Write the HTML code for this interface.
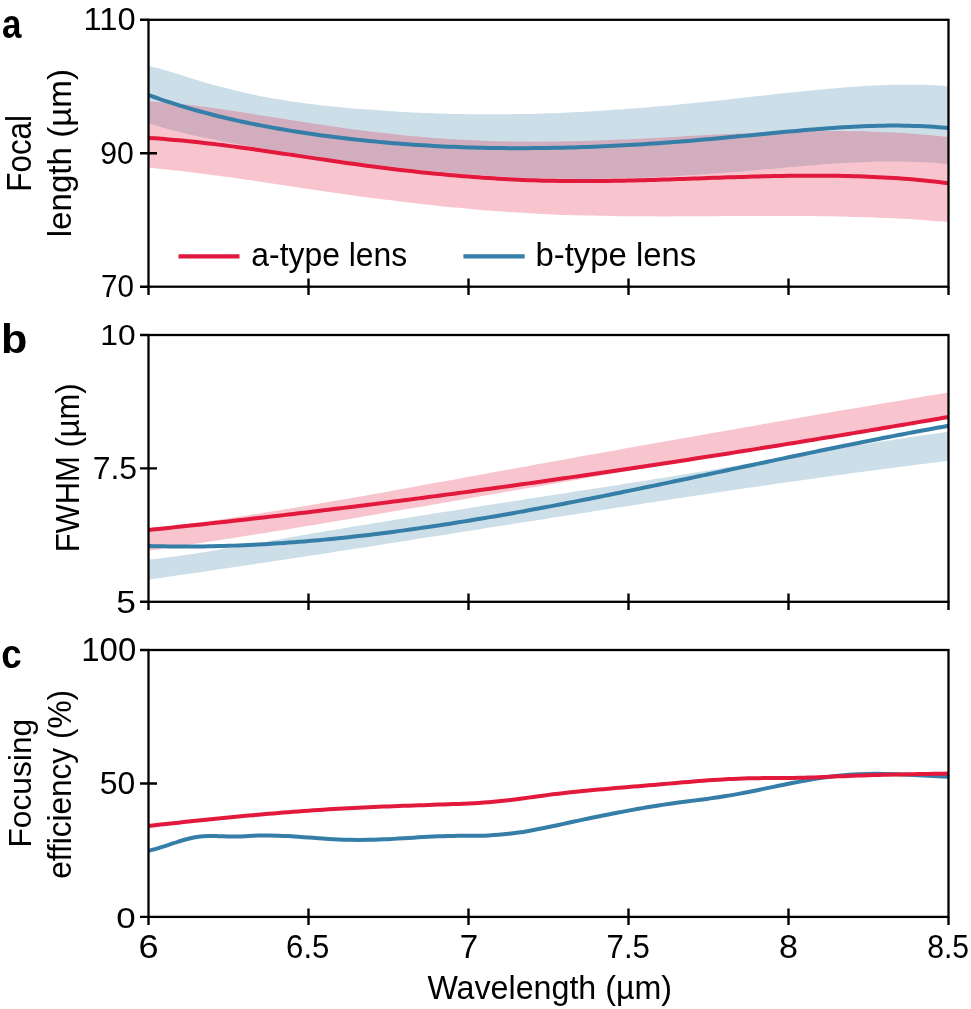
<!DOCTYPE html>
<html><head><meta charset="utf-8"><style>
html,body{margin:0;padding:0;background:#fff;width:971px;height:1009px;overflow:hidden}
svg{position:absolute;left:0;top:0;will-change:transform}
text{font-family:"Liberation Sans",sans-serif;fill:#000}
</style></head><body>
<svg width="971" height="1009" viewBox="0 0 971 1009">
<defs><clipPath id="ca"><rect x="148.50" y="19.80" width="800.00" height="266.90"/></clipPath><clipPath id="cb"><rect x="148.50" y="335.00" width="800.00" height="266.80"/></clipPath><clipPath id="cc"><rect x="148.50" y="650.00" width="800.00" height="266.90"/></clipPath></defs>
<g clip-path="url(#ca)">
<path d="M148.50,65.70 C150.17,66.14 155.17,67.44 158.50,68.37 C161.83,69.30 165.17,70.28 168.50,71.27 C171.83,72.26 175.17,73.29 178.50,74.31 C181.83,75.33 185.17,76.38 188.50,77.40 C191.83,78.42 195.17,79.45 198.50,80.45 C201.83,81.44 205.17,82.43 208.50,83.38 C211.83,84.33 215.17,85.26 218.50,86.17 C221.83,87.07 225.17,87.95 228.50,88.80 C231.83,89.65 235.17,90.48 238.50,91.27 C241.83,92.06 245.17,92.82 248.50,93.55 C251.83,94.28 255.17,94.98 258.50,95.65 C261.83,96.32 265.17,96.95 268.50,97.56 C271.83,98.17 275.17,98.75 278.50,99.31 C281.83,99.87 285.17,100.39 288.50,100.90 C291.83,101.41 295.17,101.89 298.50,102.35 C301.83,102.81 305.17,103.25 308.50,103.67 C311.83,104.09 315.17,104.49 318.50,104.88 C321.83,105.26 325.17,105.63 328.50,105.98 C331.83,106.33 335.17,106.67 338.50,106.99 C341.83,107.32 345.17,107.63 348.50,107.93 C351.83,108.23 355.17,108.52 358.50,108.80 C361.83,109.08 365.17,109.35 368.50,109.61 C371.83,109.86 375.17,110.11 378.50,110.35 C381.83,110.59 385.17,110.81 388.50,111.03 C391.83,111.24 395.17,111.45 398.50,111.64 C401.83,111.84 405.17,112.02 408.50,112.19 C411.83,112.36 415.17,112.53 418.50,112.68 C421.83,112.83 425.17,112.97 428.50,113.10 C431.83,113.23 435.17,113.36 438.50,113.47 C441.83,113.58 445.17,113.67 448.50,113.76 C451.83,113.85 455.17,113.93 458.50,114.00 C461.83,114.07 465.17,114.13 468.50,114.17 C471.83,114.22 475.17,114.26 478.50,114.28 C481.83,114.31 485.17,114.33 488.50,114.33 C491.83,114.34 495.17,114.34 498.50,114.32 C501.83,114.31 505.17,114.28 508.50,114.25 C511.83,114.21 515.17,114.17 518.50,114.11 C521.83,114.06 525.17,113.99 528.50,113.91 C531.83,113.84 535.17,113.75 538.50,113.66 C541.83,113.56 545.17,113.45 548.50,113.34 C551.83,113.22 555.17,113.09 558.50,112.96 C561.83,112.82 565.17,112.67 568.50,112.52 C571.83,112.36 575.17,112.20 578.50,112.03 C581.83,111.85 585.17,111.67 588.50,111.48 C591.83,111.29 595.17,111.09 598.50,110.88 C601.83,110.67 605.17,110.45 608.50,110.23 C611.83,110.00 615.17,109.77 618.50,109.53 C621.83,109.29 625.17,109.05 628.50,108.79 C631.83,108.54 635.17,108.28 638.50,108.01 C641.83,107.74 645.17,107.47 648.50,107.18 C651.83,106.90 655.17,106.62 658.50,106.32 C661.83,106.03 665.17,105.73 668.50,105.43 C671.83,105.12 675.17,104.81 678.50,104.49 C681.83,104.18 685.17,103.86 688.50,103.53 C691.83,103.21 695.17,102.88 698.50,102.54 C701.83,102.21 705.17,101.87 708.50,101.52 C711.83,101.18 715.17,100.83 718.50,100.48 C721.83,100.13 725.17,99.77 728.50,99.41 C731.83,99.06 735.17,98.69 738.50,98.33 C741.83,97.97 745.17,97.60 748.50,97.23 C751.83,96.86 755.17,96.48 758.50,96.11 C761.83,95.74 765.17,95.36 768.50,94.99 C771.83,94.62 775.17,94.24 778.50,93.87 C781.83,93.51 785.17,93.14 788.50,92.78 C791.83,92.41 795.17,92.06 798.50,91.70 C801.83,91.35 805.17,91.01 808.50,90.67 C811.83,90.33 815.17,90.00 818.50,89.68 C821.83,89.37 825.17,89.05 828.50,88.76 C831.83,88.46 835.17,88.17 838.50,87.90 C841.83,87.62 845.17,87.36 848.50,87.12 C851.83,86.87 855.17,86.64 858.50,86.43 C861.83,86.21 865.17,86.02 868.50,85.84 C871.83,85.66 875.17,85.50 878.50,85.36 C881.83,85.22 885.17,85.10 888.50,85.00 C891.83,84.91 895.17,84.83 898.50,84.78 C901.83,84.73 905.17,84.70 908.50,84.70 C911.83,84.69 915.17,84.72 918.50,84.77 C921.83,84.82 925.17,84.89 928.50,85.00 C931.83,85.11 935.17,85.24 938.50,85.41 C941.83,85.57 946.83,85.90 948.50,86.00 L948.50,164.20 C946.83,164.04 941.83,163.54 938.50,163.26 C935.17,162.99 931.83,162.75 928.50,162.54 C925.17,162.33 921.83,162.16 918.50,162.01 C915.17,161.86 911.83,161.75 908.50,161.67 C905.17,161.58 901.83,161.52 898.50,161.49 C895.17,161.46 891.83,161.46 888.50,161.48 C885.17,161.50 881.83,161.55 878.50,161.61 C875.17,161.68 871.83,161.77 868.50,161.88 C865.17,161.99 861.83,162.12 858.50,162.27 C855.17,162.42 851.83,162.58 848.50,162.77 C845.17,162.95 841.83,163.15 838.50,163.36 C835.17,163.57 831.83,163.79 828.50,164.03 C825.17,164.27 821.83,164.52 818.50,164.77 C815.17,165.03 811.83,165.30 808.50,165.57 C805.17,165.85 801.83,166.13 798.50,166.42 C795.17,166.71 791.83,167.00 788.50,167.30 C785.17,167.59 781.83,167.89 778.50,168.19 C775.17,168.49 771.83,168.79 768.50,169.09 C765.17,169.39 761.83,169.69 758.50,169.99 C755.17,170.28 751.83,170.57 748.50,170.86 C745.17,171.15 741.83,171.43 738.50,171.70 C735.17,171.98 731.83,172.25 728.50,172.51 C725.17,172.78 721.83,173.03 718.50,173.28 C715.17,173.53 711.83,173.78 708.50,174.01 C705.17,174.25 701.83,174.48 698.50,174.70 C695.17,174.93 691.83,175.14 688.50,175.35 C685.17,175.56 681.83,175.76 678.50,175.95 C675.17,176.14 671.83,176.33 668.50,176.50 C665.17,176.68 661.83,176.84 658.50,177.00 C655.17,177.16 651.83,177.31 648.50,177.45 C645.17,177.59 641.83,177.72 638.50,177.84 C635.17,177.96 631.83,178.07 628.50,178.18 C625.17,178.28 621.83,178.37 618.50,178.45 C615.17,178.53 611.83,178.60 608.50,178.66 C605.17,178.73 601.83,178.78 598.50,178.81 C595.17,178.85 591.83,178.88 588.50,178.90 C585.17,178.91 581.83,178.92 578.50,178.91 C575.17,178.90 571.83,178.89 568.50,178.86 C565.17,178.82 561.83,178.78 558.50,178.73 C555.17,178.67 551.83,178.60 548.50,178.52 C545.17,178.44 541.83,178.35 538.50,178.24 C535.17,178.13 531.83,178.01 528.50,177.88 C525.17,177.75 521.83,177.61 518.50,177.45 C515.17,177.30 511.83,177.13 508.50,176.95 C505.17,176.78 501.83,176.59 498.50,176.39 C495.17,176.18 491.83,175.97 488.50,175.75 C485.17,175.53 481.83,175.29 478.50,175.05 C475.17,174.81 471.83,174.55 468.50,174.29 C465.17,174.03 461.83,173.75 458.50,173.47 C455.17,173.19 451.83,172.90 448.50,172.60 C445.17,172.29 441.83,171.98 438.50,171.67 C435.17,171.35 431.83,171.02 428.50,170.68 C425.17,170.35 421.83,170.00 418.50,169.65 C415.17,169.30 411.83,168.94 408.50,168.57 C405.17,168.20 401.83,167.83 398.50,167.44 C395.17,167.06 391.83,166.67 388.50,166.28 C385.17,165.88 381.83,165.48 378.50,165.07 C375.17,164.66 371.83,164.24 368.50,163.82 C365.17,163.40 361.83,162.97 358.50,162.53 C355.17,162.10 351.83,161.66 348.50,161.22 C345.17,160.77 341.83,160.32 338.50,159.87 C335.17,159.41 331.83,158.95 328.50,158.49 C325.17,158.02 321.83,157.55 318.50,157.07 C315.17,156.59 311.83,156.11 308.50,155.62 C305.17,155.13 301.83,154.63 298.50,154.13 C295.17,153.63 291.83,153.12 288.50,152.60 C285.17,152.09 281.83,151.56 278.50,151.04 C275.17,150.51 271.83,149.97 268.50,149.43 C265.17,148.88 261.83,148.33 258.50,147.77 C255.17,147.22 251.83,146.65 248.50,146.08 C245.17,145.50 241.83,144.92 238.50,144.33 C235.17,143.74 231.83,143.14 228.50,142.52 C225.17,141.90 221.83,141.27 218.50,140.62 C215.17,139.97 211.83,139.31 208.50,138.62 C205.17,137.93 201.83,137.22 198.50,136.49 C195.17,135.75 191.83,135.00 188.50,134.21 C185.17,133.42 181.83,132.61 178.50,131.76 C175.17,130.92 171.83,130.04 168.50,129.13 C165.17,128.22 161.83,127.27 158.50,126.29 C155.17,125.30 150.17,123.73 148.50,123.21 Z" fill="#357ea8" fill-opacity="0.250"/>
<path d="M148.50,101.17 C150.17,101.29 155.17,101.62 158.50,101.88 C161.83,102.14 165.17,102.42 168.50,102.73 C171.83,103.04 175.17,103.37 178.50,103.72 C181.83,104.07 185.17,104.44 188.50,104.83 C191.83,105.22 195.17,105.63 198.50,106.05 C201.83,106.47 205.17,106.91 208.50,107.36 C211.83,107.81 215.17,108.28 218.50,108.76 C221.83,109.23 225.17,109.72 228.50,110.22 C231.83,110.72 235.17,111.23 238.50,111.74 C241.83,112.26 245.17,112.78 248.50,113.31 C251.83,113.83 255.17,114.36 258.50,114.90 C261.83,115.43 265.17,115.97 268.50,116.51 C271.83,117.05 275.17,117.59 278.50,118.12 C281.83,118.66 285.17,119.20 288.50,119.73 C291.83,120.26 295.17,120.79 298.50,121.31 C301.83,121.83 305.17,122.35 308.50,122.86 C311.83,123.37 315.17,123.87 318.50,124.37 C321.83,124.86 325.17,125.35 328.50,125.83 C331.83,126.31 335.17,126.79 338.50,127.25 C341.83,127.72 345.17,128.18 348.50,128.63 C351.83,129.08 355.17,129.52 358.50,129.95 C361.83,130.38 365.17,130.80 368.50,131.22 C371.83,131.63 375.17,132.03 378.50,132.42 C381.83,132.81 385.17,133.20 388.50,133.57 C391.83,133.94 395.17,134.30 398.50,134.65 C401.83,135.00 405.17,135.33 408.50,135.66 C411.83,135.98 415.17,136.30 418.50,136.60 C421.83,136.90 425.17,137.18 428.50,137.46 C431.83,137.73 435.17,137.99 438.50,138.24 C441.83,138.49 445.17,138.72 448.50,138.94 C451.83,139.16 455.17,139.37 458.50,139.56 C461.83,139.75 465.17,139.93 468.50,140.09 C471.83,140.25 475.17,140.40 478.50,140.54 C481.83,140.68 485.17,140.80 488.50,140.91 C491.83,141.02 495.17,141.12 498.50,141.21 C501.83,141.29 505.17,141.36 508.50,141.42 C511.83,141.48 515.17,141.53 518.50,141.57 C521.83,141.61 525.17,141.63 528.50,141.64 C531.83,141.66 535.17,141.66 538.50,141.65 C541.83,141.64 545.17,141.62 548.50,141.59 C551.83,141.56 555.17,141.51 558.50,141.46 C561.83,141.41 565.17,141.35 568.50,141.28 C571.83,141.21 575.17,141.13 578.50,141.04 C581.83,140.95 585.17,140.85 588.50,140.75 C591.83,140.64 595.17,140.53 598.50,140.41 C601.83,140.29 605.17,140.16 608.50,140.03 C611.83,139.90 615.17,139.76 618.50,139.62 C621.83,139.48 625.17,139.33 628.50,139.17 C631.83,139.02 635.17,138.86 638.50,138.70 C641.83,138.54 645.17,138.38 648.50,138.21 C651.83,138.04 655.17,137.87 658.50,137.70 C661.83,137.53 665.17,137.35 668.50,137.18 C671.83,137.00 675.17,136.83 678.50,136.65 C681.83,136.47 685.17,136.30 688.50,136.12 C691.83,135.94 695.17,135.77 698.50,135.59 C701.83,135.42 705.17,135.24 708.50,135.07 C711.83,134.90 715.17,134.73 718.50,134.56 C721.83,134.39 725.17,134.23 728.50,134.07 C731.83,133.91 735.17,133.75 738.50,133.59 C741.83,133.44 745.17,133.29 748.50,133.15 C751.83,133.01 755.17,132.87 758.50,132.73 C761.83,132.60 765.17,132.47 768.50,132.36 C771.83,132.24 775.17,132.12 778.50,132.02 C781.83,131.91 785.17,131.81 788.50,131.72 C791.83,131.63 795.17,131.55 798.50,131.48 C801.83,131.41 805.17,131.35 808.50,131.29 C811.83,131.24 815.17,131.20 818.50,131.17 C821.83,131.13 825.17,131.11 828.50,131.10 C831.83,131.09 835.17,131.09 838.50,131.11 C841.83,131.12 845.17,131.15 848.50,131.19 C851.83,131.23 855.17,131.28 858.50,131.35 C861.83,131.41 865.17,131.49 868.50,131.59 C871.83,131.68 875.17,131.79 878.50,131.92 C881.83,132.05 885.17,132.19 888.50,132.34 C891.83,132.50 895.17,132.67 898.50,132.87 C901.83,133.06 905.17,133.26 908.50,133.49 C911.83,133.72 915.17,133.96 918.50,134.22 C921.83,134.49 925.17,134.77 928.50,135.07 C931.83,135.37 935.17,135.69 938.50,136.03 C941.83,136.37 946.83,136.93 948.50,137.11 L948.50,222.02 C946.83,221.88 941.83,221.44 938.50,221.18 C935.17,220.91 931.83,220.66 928.50,220.41 C925.17,220.17 921.83,219.94 918.50,219.73 C915.17,219.51 911.83,219.30 908.50,219.11 C905.17,218.92 901.83,218.73 898.50,218.56 C895.17,218.39 891.83,218.23 888.50,218.08 C885.17,217.92 881.83,217.78 878.50,217.65 C875.17,217.52 871.83,217.40 868.50,217.28 C865.17,217.17 861.83,217.06 858.50,216.97 C855.17,216.87 851.83,216.78 848.50,216.70 C845.17,216.62 841.83,216.55 838.50,216.48 C835.17,216.42 831.83,216.36 828.50,216.31 C825.17,216.25 821.83,216.21 818.50,216.17 C815.17,216.13 811.83,216.09 808.50,216.07 C805.17,216.04 801.83,216.01 798.50,216.00 C795.17,215.98 791.83,215.96 788.50,215.95 C785.17,215.94 781.83,215.94 778.50,215.94 C775.17,215.94 771.83,215.94 768.50,215.94 C765.17,215.95 761.83,215.95 758.50,215.96 C755.17,215.97 751.83,215.99 748.50,216.00 C745.17,216.01 741.83,216.03 738.50,216.05 C735.17,216.06 731.83,216.08 728.50,216.10 C725.17,216.12 721.83,216.14 718.50,216.16 C715.17,216.18 711.83,216.20 708.50,216.22 C705.17,216.24 701.83,216.25 698.50,216.27 C695.17,216.29 691.83,216.30 688.50,216.32 C685.17,216.33 681.83,216.35 678.50,216.36 C675.17,216.36 671.83,216.37 668.50,216.38 C665.17,216.38 661.83,216.38 658.50,216.38 C655.17,216.38 651.83,216.38 648.50,216.37 C645.17,216.36 641.83,216.34 638.50,216.32 C635.17,216.31 631.83,216.28 628.50,216.25 C625.17,216.23 621.83,216.19 618.50,216.15 C615.17,216.11 611.83,216.07 608.50,216.02 C605.17,215.96 601.83,215.91 598.50,215.84 C595.17,215.77 591.83,215.70 588.50,215.62 C585.17,215.54 581.83,215.45 578.50,215.36 C575.17,215.26 571.83,215.16 568.50,215.04 C565.17,214.93 561.83,214.81 558.50,214.68 C555.17,214.54 551.83,214.40 548.50,214.25 C545.17,214.10 541.83,213.94 538.50,213.77 C535.17,213.60 531.83,213.42 528.50,213.22 C525.17,213.03 521.83,212.83 518.50,212.62 C515.17,212.41 511.83,212.19 508.50,211.97 C505.17,211.74 501.83,211.50 498.50,211.25 C495.17,211.01 491.83,210.75 488.50,210.49 C485.17,210.22 481.83,209.95 478.50,209.67 C475.17,209.38 471.83,209.09 468.50,208.79 C465.17,208.49 461.83,208.19 458.50,207.87 C455.17,207.56 451.83,207.23 448.50,206.90 C445.17,206.57 441.83,206.23 438.50,205.88 C435.17,205.53 431.83,205.18 428.50,204.81 C425.17,204.45 421.83,204.08 418.50,203.70 C415.17,203.33 411.83,202.94 408.50,202.55 C405.17,202.16 401.83,201.76 398.50,201.35 C395.17,200.94 391.83,200.53 388.50,200.11 C385.17,199.69 381.83,199.26 378.50,198.83 C375.17,198.40 371.83,197.96 368.50,197.51 C365.17,197.07 361.83,196.61 358.50,196.16 C355.17,195.70 351.83,195.23 348.50,194.76 C345.17,194.29 341.83,193.82 338.50,193.34 C335.17,192.85 331.83,192.37 328.50,191.88 C325.17,191.39 321.83,190.90 318.50,190.40 C315.17,189.90 311.83,189.40 308.50,188.90 C305.17,188.40 301.83,187.90 298.50,187.40 C295.17,186.89 291.83,186.39 288.50,185.89 C285.17,185.38 281.83,184.88 278.50,184.38 C275.17,183.88 271.83,183.38 268.50,182.88 C265.17,182.38 261.83,181.89 258.50,181.40 C255.17,180.91 251.83,180.42 248.50,179.93 C245.17,179.45 241.83,178.97 238.50,178.50 C235.17,178.03 231.83,177.56 228.50,177.10 C225.17,176.64 221.83,176.18 218.50,175.74 C215.17,175.29 211.83,174.85 208.50,174.42 C205.17,173.99 201.83,173.57 198.50,173.16 C195.17,172.75 191.83,172.35 188.50,171.96 C185.17,171.57 181.83,171.19 178.50,170.82 C175.17,170.46 171.83,170.10 168.50,169.76 C165.17,169.42 161.83,169.09 158.50,168.77 C155.17,168.46 150.17,168.02 148.50,167.87 Z" fill="#e2193d" fill-opacity="0.250"/>
<path d="M148.50,95.01 C150.17,95.60 155.17,97.41 158.50,98.56 C161.83,99.72 165.17,100.84 168.50,101.93 C171.83,103.02 175.17,104.08 178.50,105.11 C181.83,106.14 185.17,107.15 188.50,108.12 C191.83,109.10 195.17,110.05 198.50,110.97 C201.83,111.89 205.17,112.79 208.50,113.66 C211.83,114.53 215.17,115.37 218.50,116.19 C221.83,117.02 225.17,117.81 228.50,118.59 C231.83,119.37 235.17,120.12 238.50,120.85 C241.83,121.58 245.17,122.29 248.50,122.98 C251.83,123.67 255.17,124.34 258.50,124.99 C261.83,125.64 265.17,126.28 268.50,126.89 C271.83,127.51 275.17,128.10 278.50,128.68 C281.83,129.26 285.17,129.83 288.50,130.38 C291.83,130.93 295.17,131.46 298.50,131.98 C301.83,132.50 305.17,133.01 308.50,133.50 C311.83,133.99 315.17,134.47 318.50,134.93 C321.83,135.40 325.17,135.85 328.50,136.29 C331.83,136.73 335.17,137.15 338.50,137.56 C341.83,137.97 345.17,138.37 348.50,138.76 C351.83,139.14 355.17,139.52 358.50,139.88 C361.83,140.24 365.17,140.58 368.50,140.92 C371.83,141.25 375.17,141.57 378.50,141.88 C381.83,142.19 385.17,142.49 388.50,142.77 C391.83,143.06 395.17,143.33 398.50,143.59 C401.83,143.85 405.17,144.10 408.50,144.34 C411.83,144.58 415.17,144.80 418.50,145.02 C421.83,145.23 425.17,145.43 428.50,145.62 C431.83,145.81 435.17,145.99 438.50,146.16 C441.83,146.33 445.17,146.49 448.50,146.64 C451.83,146.78 455.17,146.92 458.50,147.04 C461.83,147.17 465.17,147.28 468.50,147.38 C471.83,147.49 475.17,147.58 478.50,147.66 C481.83,147.75 485.17,147.82 488.50,147.88 C491.83,147.94 495.17,147.99 498.50,148.04 C501.83,148.08 505.17,148.11 508.50,148.13 C511.83,148.16 515.17,148.17 518.50,148.17 C521.83,148.18 525.17,148.17 528.50,148.15 C531.83,148.14 535.17,148.11 538.50,148.08 C541.83,148.04 545.17,148.00 548.50,147.95 C551.83,147.90 555.17,147.84 558.50,147.77 C561.83,147.70 565.17,147.62 568.50,147.53 C571.83,147.44 575.17,147.35 578.50,147.24 C581.83,147.14 585.17,147.03 588.50,146.90 C591.83,146.78 595.17,146.65 598.50,146.52 C601.83,146.38 605.17,146.23 608.50,146.08 C611.83,145.92 615.17,145.76 618.50,145.59 C621.83,145.42 625.17,145.24 628.50,145.06 C631.83,144.87 635.17,144.68 638.50,144.48 C641.83,144.28 645.17,144.07 648.50,143.85 C651.83,143.63 655.17,143.41 658.50,143.18 C661.83,142.95 665.17,142.71 668.50,142.46 C671.83,142.22 675.17,141.96 678.50,141.70 C681.83,141.44 685.17,141.17 688.50,140.90 C691.83,140.62 695.17,140.34 698.50,140.06 C701.83,139.77 705.17,139.47 708.50,139.17 C711.83,138.87 715.17,138.56 718.50,138.25 C721.83,137.95 725.17,137.63 728.50,137.31 C731.83,137.00 735.17,136.68 738.50,136.35 C741.83,136.03 745.17,135.71 748.50,135.39 C751.83,135.06 755.17,134.74 758.50,134.41 C761.83,134.09 765.17,133.77 768.50,133.45 C771.83,133.13 775.17,132.81 778.50,132.50 C781.83,132.18 785.17,131.87 788.50,131.57 C791.83,131.26 795.17,130.96 798.50,130.67 C801.83,130.37 805.17,130.08 808.50,129.80 C811.83,129.52 815.17,129.25 818.50,128.99 C821.83,128.72 825.17,128.47 828.50,128.23 C831.83,127.99 835.17,127.76 838.50,127.55 C841.83,127.33 845.17,127.13 848.50,126.94 C851.83,126.76 855.17,126.59 858.50,126.44 C861.83,126.29 865.17,126.15 868.50,126.04 C871.83,125.93 875.17,125.83 878.50,125.76 C881.83,125.69 885.17,125.64 888.50,125.61 C891.83,125.58 895.17,125.58 898.50,125.60 C901.83,125.62 905.17,125.67 908.50,125.75 C911.83,125.82 915.17,125.92 918.50,126.06 C921.83,126.19 925.17,126.35 928.50,126.54 C931.83,126.74 935.17,126.96 938.50,127.22 C941.83,127.48 946.83,127.95 948.50,128.09" fill="none" stroke="#357ea8" stroke-width="4.00"/>
<path d="M148.50,137.96 C150.17,138.07 155.17,138.38 158.50,138.62 C161.83,138.85 165.17,139.11 168.50,139.39 C171.83,139.66 175.17,139.95 178.50,140.26 C181.83,140.56 185.17,140.89 188.50,141.23 C191.83,141.56 195.17,141.92 198.50,142.28 C201.83,142.65 205.17,143.02 208.50,143.41 C211.83,143.80 215.17,144.21 218.50,144.62 C221.83,145.03 225.17,145.46 228.50,145.89 C231.83,146.32 235.17,146.76 238.50,147.21 C241.83,147.66 245.17,148.12 248.50,148.58 C251.83,149.05 255.17,149.52 258.50,150.00 C261.83,150.47 265.17,150.96 268.50,151.44 C271.83,151.93 275.17,152.42 278.50,152.91 C281.83,153.40 285.17,153.90 288.50,154.39 C291.83,154.89 295.17,155.39 298.50,155.88 C301.83,156.38 305.17,156.88 308.50,157.38 C311.83,157.87 315.17,158.37 318.50,158.86 C321.83,159.35 325.17,159.84 328.50,160.33 C331.83,160.82 335.17,161.30 338.50,161.78 C341.83,162.25 345.17,162.73 348.50,163.19 C351.83,163.66 355.17,164.12 358.50,164.57 C361.83,165.02 365.17,165.47 368.50,165.91 C371.83,166.34 375.17,166.78 378.50,167.20 C381.83,167.62 385.17,168.04 388.50,168.45 C391.83,168.86 395.17,169.26 398.50,169.65 C401.83,170.04 405.17,170.43 408.50,170.80 C411.83,171.18 415.17,171.55 418.50,171.91 C421.83,172.27 425.17,172.62 428.50,172.96 C431.83,173.30 435.17,173.63 438.50,173.95 C441.83,174.28 445.17,174.59 448.50,174.89 C451.83,175.20 455.17,175.49 458.50,175.77 C461.83,176.06 465.17,176.33 468.50,176.60 C471.83,176.86 475.17,177.11 478.50,177.35 C481.83,177.60 485.17,177.83 488.50,178.05 C491.83,178.27 495.17,178.48 498.50,178.68 C501.83,178.87 505.17,179.06 508.50,179.24 C511.83,179.41 515.17,179.58 518.50,179.73 C521.83,179.88 525.17,180.02 528.50,180.14 C531.83,180.27 535.17,180.39 538.50,180.49 C541.83,180.59 545.17,180.68 548.50,180.76 C551.83,180.83 555.17,180.90 558.50,180.95 C561.83,181.00 565.17,181.04 568.50,181.07 C571.83,181.09 575.17,181.11 578.50,181.12 C581.83,181.12 585.17,181.12 588.50,181.11 C591.83,181.09 595.17,181.07 598.50,181.04 C601.83,181.01 605.17,180.97 608.50,180.92 C611.83,180.87 615.17,180.82 618.50,180.75 C621.83,180.69 625.17,180.62 628.50,180.55 C631.83,180.47 635.17,180.39 638.50,180.31 C641.83,180.22 645.17,180.13 648.50,180.03 C651.83,179.94 655.17,179.84 658.50,179.73 C661.83,179.63 665.17,179.52 668.50,179.41 C671.83,179.30 675.17,179.19 678.50,179.08 C681.83,178.96 685.17,178.85 688.50,178.73 C691.83,178.62 695.17,178.50 698.50,178.38 C701.83,178.26 705.17,178.15 708.50,178.03 C711.83,177.91 715.17,177.80 718.50,177.69 C721.83,177.57 725.17,177.46 728.50,177.35 C731.83,177.24 735.17,177.14 738.50,177.03 C741.83,176.93 745.17,176.83 748.50,176.74 C751.83,176.64 755.17,176.55 758.50,176.46 C761.83,176.38 765.17,176.30 768.50,176.23 C771.83,176.15 775.17,176.08 778.50,176.02 C781.83,175.96 785.17,175.91 788.50,175.86 C791.83,175.81 795.17,175.78 798.50,175.75 C801.83,175.72 805.17,175.69 808.50,175.68 C811.83,175.67 815.17,175.67 818.50,175.68 C821.83,175.69 825.17,175.71 828.50,175.74 C831.83,175.77 835.17,175.81 838.50,175.86 C841.83,175.92 845.17,175.98 848.50,176.06 C851.83,176.14 855.17,176.23 858.50,176.34 C861.83,176.44 865.17,176.56 868.50,176.70 C871.83,176.83 875.17,176.98 878.50,177.14 C881.83,177.31 885.17,177.49 888.50,177.68 C891.83,177.88 895.17,178.09 898.50,178.32 C901.83,178.56 905.17,178.80 908.50,179.07 C911.83,179.34 915.17,179.62 918.50,179.92 C921.83,180.23 925.17,180.55 928.50,180.89 C931.83,181.23 935.17,181.60 938.50,181.98 C941.83,182.36 946.83,182.99 948.50,183.19" fill="none" stroke="#e2193d" stroke-width="4.00"/>
</g>
<g clip-path="url(#cb)">
<path d="M148.50,559.61 C150.17,559.43 155.17,558.88 158.50,558.48 C161.83,558.09 165.17,557.67 168.50,557.24 C171.83,556.81 175.17,556.36 178.50,555.90 C181.83,555.44 185.17,554.97 188.50,554.48 C191.83,553.99 195.17,553.49 198.50,552.98 C201.83,552.46 205.17,551.94 208.50,551.41 C211.83,550.87 215.17,550.33 218.50,549.78 C221.83,549.23 225.17,548.67 228.50,548.11 C231.83,547.55 235.17,546.97 238.50,546.40 C241.83,545.83 245.17,545.25 248.50,544.67 C251.83,544.09 255.17,543.51 258.50,542.92 C261.83,542.34 265.17,541.75 268.50,541.17 C271.83,540.59 275.17,540.01 278.50,539.43 C281.83,538.85 285.17,538.27 288.50,537.69 C291.83,537.12 295.17,536.54 298.50,535.97 C301.83,535.40 305.17,534.83 308.50,534.26 C311.83,533.69 315.17,533.12 318.50,532.55 C321.83,531.99 325.17,531.42 328.50,530.86 C331.83,530.30 335.17,529.74 338.50,529.18 C341.83,528.62 345.17,528.06 348.50,527.51 C351.83,526.95 355.17,526.40 358.50,525.85 C361.83,525.29 365.17,524.74 368.50,524.19 C371.83,523.64 375.17,523.10 378.50,522.55 C381.83,522.00 385.17,521.46 388.50,520.91 C391.83,520.37 395.17,519.83 398.50,519.29 C401.83,518.75 405.17,518.21 408.50,517.67 C411.83,517.14 415.17,516.60 418.50,516.06 C421.83,515.53 425.17,515.00 428.50,514.47 C431.83,513.93 435.17,513.40 438.50,512.87 C441.83,512.34 445.17,511.82 448.50,511.29 C451.83,510.76 455.17,510.24 458.50,509.72 C461.83,509.19 465.17,508.67 468.50,508.15 C471.83,507.62 475.17,507.10 478.50,506.58 C481.83,506.06 485.17,505.55 488.50,505.03 C491.83,504.51 495.17,503.99 498.50,503.47 C501.83,502.96 505.17,502.44 508.50,501.93 C511.83,501.41 515.17,500.89 518.50,500.38 C521.83,499.86 525.17,499.35 528.50,498.84 C531.83,498.32 535.17,497.81 538.50,497.29 C541.83,496.78 545.17,496.26 548.50,495.75 C551.83,495.23 555.17,494.72 558.50,494.21 C561.83,493.69 565.17,493.18 568.50,492.66 C571.83,492.14 575.17,491.63 578.50,491.11 C581.83,490.60 585.17,490.08 588.50,489.56 C591.83,489.04 595.17,488.52 598.50,488.01 C601.83,487.49 605.17,486.97 608.50,486.45 C611.83,485.92 615.17,485.40 618.50,484.88 C621.83,484.36 625.17,483.83 628.50,483.31 C631.83,482.78 635.17,482.25 638.50,481.73 C641.83,481.20 645.17,480.67 648.50,480.14 C651.83,479.61 655.17,479.07 658.50,478.54 C661.83,478.00 665.17,477.47 668.50,476.93 C671.83,476.39 675.17,475.85 678.50,475.31 C681.83,474.77 685.17,474.23 688.50,473.68 C691.83,473.13 695.17,472.59 698.50,472.04 C701.83,471.49 705.17,470.93 708.50,470.38 C711.83,469.82 715.17,469.27 718.50,468.71 C721.83,468.15 725.17,467.59 728.50,467.03 C731.83,466.47 735.17,465.91 738.50,465.35 C741.83,464.78 745.17,464.22 748.50,463.66 C751.83,463.09 755.17,462.53 758.50,461.96 C761.83,461.40 765.17,460.83 768.50,460.27 C771.83,459.70 775.17,459.14 778.50,458.57 C781.83,458.01 785.17,457.44 788.50,456.88 C791.83,456.32 795.17,455.75 798.50,455.19 C801.83,454.63 805.17,454.07 808.50,453.51 C811.83,452.95 815.17,452.39 818.50,451.84 C821.83,451.28 825.17,450.73 828.50,450.18 C831.83,449.62 835.17,449.07 838.50,448.53 C841.83,447.98 845.17,447.43 848.50,446.89 C851.83,446.35 855.17,445.81 858.50,445.27 C861.83,444.74 865.17,444.20 868.50,443.67 C871.83,443.14 875.17,442.62 878.50,442.09 C881.83,441.57 885.17,441.05 888.50,440.54 C891.83,440.02 895.17,439.51 898.50,439.01 C901.83,438.50 905.17,438.00 908.50,437.50 C911.83,437.00 915.17,436.51 918.50,436.02 C921.83,435.54 925.17,435.05 928.50,434.58 C931.83,434.10 935.17,433.63 938.50,433.16 C941.83,432.70 946.83,432.01 948.50,431.78 L948.50,460.66 C946.83,460.87 941.83,461.49 938.50,461.90 C935.17,462.32 931.83,462.74 928.50,463.16 C925.17,463.58 921.83,464.00 918.50,464.43 C915.17,464.85 911.83,465.28 908.50,465.71 C905.17,466.14 901.83,466.57 898.50,467.01 C895.17,467.44 891.83,467.88 888.50,468.32 C885.17,468.75 881.83,469.20 878.50,469.64 C875.17,470.08 871.83,470.53 868.50,470.97 C865.17,471.42 861.83,471.87 858.50,472.32 C855.17,472.77 851.83,473.22 848.50,473.68 C845.17,474.13 841.83,474.59 838.50,475.05 C835.17,475.51 831.83,475.97 828.50,476.43 C825.17,476.89 821.83,477.36 818.50,477.82 C815.17,478.29 811.83,478.75 808.50,479.22 C805.17,479.69 801.83,480.16 798.50,480.64 C795.17,481.11 791.83,481.58 788.50,482.06 C785.17,482.54 781.83,483.01 778.50,483.49 C775.17,483.97 771.83,484.45 768.50,484.94 C765.17,485.42 761.83,485.90 758.50,486.39 C755.17,486.87 751.83,487.36 748.50,487.85 C745.17,488.33 741.83,488.82 738.50,489.32 C735.17,489.81 731.83,490.30 728.50,490.79 C725.17,491.28 721.83,491.78 718.50,492.28 C715.17,492.77 711.83,493.27 708.50,493.77 C705.17,494.27 701.83,494.77 698.50,495.27 C695.17,495.77 691.83,496.27 688.50,496.77 C685.17,497.27 681.83,497.78 678.50,498.28 C675.17,498.79 671.83,499.30 668.50,499.80 C665.17,500.31 661.83,500.82 658.50,501.33 C655.17,501.84 651.83,502.35 648.50,502.86 C645.17,503.37 641.83,503.88 638.50,504.39 C635.17,504.90 631.83,505.42 628.50,505.93 C625.17,506.45 621.83,506.96 618.50,507.48 C615.17,507.99 611.83,508.51 608.50,509.03 C605.17,509.54 601.83,510.06 598.50,510.58 C595.17,511.10 591.83,511.62 588.50,512.14 C585.17,512.66 581.83,513.18 578.50,513.70 C575.17,514.22 571.83,514.74 568.50,515.26 C565.17,515.78 561.83,516.30 558.50,516.83 C555.17,517.35 551.83,517.87 548.50,518.40 C545.17,518.92 541.83,519.44 538.50,519.97 C535.17,520.49 531.83,521.01 528.50,521.54 C525.17,522.06 521.83,522.59 518.50,523.11 C515.17,523.64 511.83,524.16 508.50,524.69 C505.17,525.21 501.83,525.74 498.50,526.26 C495.17,526.79 491.83,527.32 488.50,527.84 C485.17,528.37 481.83,528.89 478.50,529.42 C475.17,529.94 471.83,530.47 468.50,531.00 C465.17,531.52 461.83,532.05 458.50,532.57 C455.17,533.10 451.83,533.62 448.50,534.15 C445.17,534.67 441.83,535.20 438.50,535.72 C435.17,536.25 431.83,536.77 428.50,537.30 C425.17,537.82 421.83,538.34 418.50,538.87 C415.17,539.39 411.83,539.92 408.50,540.44 C405.17,540.96 401.83,541.48 398.50,542.01 C395.17,542.53 391.83,543.05 388.50,543.57 C385.17,544.09 381.83,544.61 378.50,545.13 C375.17,545.65 371.83,546.17 368.50,546.69 C365.17,547.21 361.83,547.73 358.50,548.25 C355.17,548.77 351.83,549.28 348.50,549.80 C345.17,550.32 341.83,550.83 338.50,551.35 C335.17,551.86 331.83,552.38 328.50,552.89 C325.17,553.40 321.83,553.92 318.50,554.43 C315.17,554.94 311.83,555.45 308.50,555.96 C305.17,556.47 301.83,556.98 298.50,557.49 C295.17,558.00 291.83,558.51 288.50,559.01 C285.17,559.52 281.83,560.03 278.50,560.53 C275.17,561.03 271.83,561.54 268.50,562.04 C265.17,562.54 261.83,563.04 258.50,563.54 C255.17,564.04 251.83,564.54 248.50,565.04 C245.17,565.54 241.83,566.03 238.50,566.53 C235.17,567.02 231.83,567.52 228.50,568.01 C225.17,568.50 221.83,568.99 218.50,569.48 C215.17,569.97 211.83,570.46 208.50,570.95 C205.17,571.44 201.83,571.92 198.50,572.41 C195.17,572.89 191.83,573.37 188.50,573.85 C185.17,574.34 181.83,574.81 178.50,575.29 C175.17,575.77 171.83,576.25 168.50,576.72 C165.17,577.20 161.83,577.67 158.50,578.14 C155.17,578.61 150.17,579.32 148.50,579.55 Z" fill="#357ea8" fill-opacity="0.250"/>
<path d="M148.50,528.74 C150.17,528.55 155.17,527.97 158.50,527.57 C161.83,527.18 165.17,526.77 168.50,526.36 C171.83,525.95 175.17,525.53 178.50,525.11 C181.83,524.68 185.17,524.25 188.50,523.81 C191.83,523.37 195.17,522.92 198.50,522.47 C201.83,522.01 205.17,521.55 208.50,521.09 C211.83,520.62 215.17,520.15 218.50,519.67 C221.83,519.19 225.17,518.71 228.50,518.22 C231.83,517.73 235.17,517.23 238.50,516.73 C241.83,516.23 245.17,515.72 248.50,515.21 C251.83,514.70 255.17,514.18 258.50,513.66 C261.83,513.14 265.17,512.61 268.50,512.08 C271.83,511.55 275.17,511.01 278.50,510.47 C281.83,509.93 285.17,509.38 288.50,508.84 C291.83,508.29 295.17,507.73 298.50,507.18 C301.83,506.62 305.17,506.06 308.50,505.49 C311.83,504.93 315.17,504.36 318.50,503.79 C321.83,503.22 325.17,502.64 328.50,502.07 C331.83,501.49 335.17,500.91 338.50,500.33 C341.83,499.74 345.17,499.16 348.50,498.57 C351.83,497.98 355.17,497.39 358.50,496.80 C361.83,496.20 365.17,495.61 368.50,495.01 C371.83,494.42 375.17,493.82 378.50,493.22 C381.83,492.62 385.17,492.01 388.50,491.41 C391.83,490.81 395.17,490.20 398.50,489.60 C401.83,488.99 405.17,488.38 408.50,487.77 C411.83,487.17 415.17,486.56 418.50,485.95 C421.83,485.34 425.17,484.73 428.50,484.12 C431.83,483.51 435.17,482.90 438.50,482.29 C441.83,481.68 445.17,481.07 448.50,480.46 C451.83,479.85 455.17,479.24 458.50,478.63 C461.83,478.02 465.17,477.41 468.50,476.80 C471.83,476.20 475.17,475.59 478.50,474.98 C481.83,474.37 485.17,473.76 488.50,473.16 C491.83,472.55 495.17,471.94 498.50,471.33 C501.83,470.73 505.17,470.12 508.50,469.51 C511.83,468.91 515.17,468.30 518.50,467.70 C521.83,467.09 525.17,466.49 528.50,465.88 C531.83,465.28 535.17,464.67 538.50,464.07 C541.83,463.47 545.17,462.86 548.50,462.26 C551.83,461.66 555.17,461.05 558.50,460.45 C561.83,459.85 565.17,459.25 568.50,458.64 C571.83,458.04 575.17,457.44 578.50,456.84 C581.83,456.24 585.17,455.64 588.50,455.04 C591.83,454.44 595.17,453.84 598.50,453.24 C601.83,452.64 605.17,452.05 608.50,451.45 C611.83,450.85 615.17,450.25 618.50,449.65 C621.83,449.06 625.17,448.46 628.50,447.87 C631.83,447.27 635.17,446.67 638.50,446.08 C641.83,445.48 645.17,444.89 648.50,444.29 C651.83,443.70 655.17,443.11 658.50,442.51 C661.83,441.92 665.17,441.33 668.50,440.74 C671.83,440.14 675.17,439.55 678.50,438.96 C681.83,438.37 685.17,437.78 688.50,437.19 C691.83,436.60 695.17,436.01 698.50,435.42 C701.83,434.83 705.17,434.25 708.50,433.66 C711.83,433.07 715.17,432.48 718.50,431.90 C721.83,431.31 725.17,430.73 728.50,430.14 C731.83,429.56 735.17,428.97 738.50,428.39 C741.83,427.80 745.17,427.22 748.50,426.64 C751.83,426.06 755.17,425.47 758.50,424.89 C761.83,424.31 765.17,423.73 768.50,423.15 C771.83,422.57 775.17,421.99 778.50,421.41 C781.83,420.83 785.17,420.25 788.50,419.68 C791.83,419.10 795.17,418.52 798.50,417.95 C801.83,417.37 805.17,416.79 808.50,416.22 C811.83,415.65 815.17,415.07 818.50,414.50 C821.83,413.92 825.17,413.35 828.50,412.78 C831.83,412.21 835.17,411.64 838.50,411.07 C841.83,410.50 845.17,409.93 848.50,409.36 C851.83,408.79 855.17,408.22 858.50,407.65 C861.83,407.09 865.17,406.52 868.50,405.95 C871.83,405.39 875.17,404.82 878.50,404.26 C881.83,403.69 885.17,403.13 888.50,402.57 C891.83,402.00 895.17,401.44 898.50,400.88 C901.83,400.32 905.17,399.76 908.50,399.20 C911.83,398.64 915.17,398.08 918.50,397.52 C921.83,396.97 925.17,396.41 928.50,395.85 C931.83,395.30 935.17,394.74 938.50,394.19 C941.83,393.63 946.83,392.80 948.50,392.53 L948.50,416.00 C946.83,416.29 941.83,417.14 938.50,417.71 C935.17,418.29 931.83,418.86 928.50,419.43 C925.17,420.00 921.83,420.57 918.50,421.14 C915.17,421.71 911.83,422.28 908.50,422.85 C905.17,423.42 901.83,423.99 898.50,424.57 C895.17,425.14 891.83,425.71 888.50,426.28 C885.17,426.85 881.83,427.42 878.50,427.99 C875.17,428.56 871.83,429.13 868.50,429.70 C865.17,430.28 861.83,430.85 858.50,431.42 C855.17,431.99 851.83,432.56 848.50,433.13 C845.17,433.70 841.83,434.27 838.50,434.85 C835.17,435.42 831.83,435.99 828.50,436.56 C825.17,437.13 821.83,437.70 818.50,438.27 C815.17,438.85 811.83,439.42 808.50,439.99 C805.17,440.56 801.83,441.13 798.50,441.70 C795.17,442.27 791.83,442.85 788.50,443.42 C785.17,443.99 781.83,444.56 778.50,445.13 C775.17,445.70 771.83,446.28 768.50,446.85 C765.17,447.42 761.83,447.99 758.50,448.56 C755.17,449.14 751.83,449.71 748.50,450.28 C745.17,450.85 741.83,451.42 738.50,452.00 C735.17,452.57 731.83,453.14 728.50,453.71 C725.17,454.29 721.83,454.86 718.50,455.43 C715.17,456.00 711.83,456.57 708.50,457.15 C705.17,457.72 701.83,458.29 698.50,458.86 C695.17,459.44 691.83,460.01 688.50,460.58 C685.17,461.16 681.83,461.73 678.50,462.30 C675.17,462.87 671.83,463.45 668.50,464.02 C665.17,464.59 661.83,465.17 658.50,465.74 C655.17,466.31 651.83,466.88 648.50,467.46 C645.17,468.03 641.83,468.60 638.50,469.18 C635.17,469.75 631.83,470.32 628.50,470.90 C625.17,471.47 621.83,472.04 618.50,472.62 C615.17,473.19 611.83,473.77 608.50,474.34 C605.17,474.91 601.83,475.49 598.50,476.06 C595.17,476.63 591.83,477.21 588.50,477.78 C585.17,478.36 581.83,478.93 578.50,479.50 C575.17,480.08 571.83,480.65 568.50,481.23 C565.17,481.80 561.83,482.38 558.50,482.95 C555.17,483.53 551.83,484.10 548.50,484.67 C545.17,485.25 541.83,485.82 538.50,486.40 C535.17,486.97 531.83,487.55 528.50,488.12 C525.17,488.70 521.83,489.27 518.50,489.85 C515.17,490.42 511.83,491.00 508.50,491.57 C505.17,492.15 501.83,492.72 498.50,493.30 C495.17,493.88 491.83,494.45 488.50,495.03 C485.17,495.60 481.83,496.18 478.50,496.75 C475.17,497.33 471.83,497.91 468.50,498.48 C465.17,499.06 461.83,499.63 458.50,500.21 C455.17,500.79 451.83,501.36 448.50,501.94 C445.17,502.52 441.83,503.09 438.50,503.67 C435.17,504.25 431.83,504.82 428.50,505.40 C425.17,505.98 421.83,506.55 418.50,507.13 C415.17,507.70 411.83,508.28 408.50,508.85 C405.17,509.43 401.83,510.00 398.50,510.58 C395.17,511.15 391.83,511.73 388.50,512.30 C385.17,512.87 381.83,513.44 378.50,514.02 C375.17,514.59 371.83,515.16 368.50,515.73 C365.17,516.30 361.83,516.87 358.50,517.43 C355.17,518.00 351.83,518.57 348.50,519.14 C345.17,519.70 341.83,520.27 338.50,520.83 C335.17,521.39 331.83,521.95 328.50,522.51 C325.17,523.07 321.83,523.63 318.50,524.19 C315.17,524.75 311.83,525.30 308.50,525.86 C305.17,526.41 301.83,526.96 298.50,527.51 C295.17,528.06 291.83,528.61 288.50,529.16 C285.17,529.71 281.83,530.25 278.50,530.79 C275.17,531.34 271.83,531.88 268.50,532.41 C265.17,532.95 261.83,533.49 258.50,534.02 C255.17,534.56 251.83,535.09 248.50,535.62 C245.17,536.14 241.83,536.67 238.50,537.19 C235.17,537.72 231.83,538.24 228.50,538.76 C225.17,539.28 221.83,539.79 218.50,540.30 C215.17,540.82 211.83,541.33 208.50,541.83 C205.17,542.34 201.83,542.85 198.50,543.35 C195.17,543.85 191.83,544.34 188.50,544.84 C185.17,545.33 181.83,545.82 178.50,546.31 C175.17,546.80 171.83,547.28 168.50,547.76 C165.17,548.24 161.83,548.72 158.50,549.20 C155.17,549.67 150.17,550.37 148.50,550.61 Z" fill="#e2193d" fill-opacity="0.250"/>
<path d="M148.50,546.02 C150.17,546.07 155.17,546.20 158.50,546.27 C161.83,546.34 165.17,546.39 168.50,546.44 C171.83,546.48 175.17,546.51 178.50,546.52 C181.83,546.54 185.17,546.54 188.50,546.53 C191.83,546.52 195.17,546.50 198.50,546.46 C201.83,546.42 205.17,546.38 208.50,546.32 C211.83,546.26 215.17,546.18 218.50,546.10 C221.83,546.01 225.17,545.91 228.50,545.81 C231.83,545.70 235.17,545.58 238.50,545.44 C241.83,545.31 245.17,545.17 248.50,545.01 C251.83,544.86 255.17,544.69 258.50,544.51 C261.83,544.33 265.17,544.14 268.50,543.94 C271.83,543.74 275.17,543.53 278.50,543.31 C281.83,543.09 285.17,542.86 288.50,542.61 C291.83,542.37 295.17,542.12 298.50,541.85 C301.83,541.59 305.17,541.32 308.50,541.03 C311.83,540.75 315.17,540.46 318.50,540.15 C321.83,539.85 325.17,539.54 328.50,539.21 C331.83,538.89 335.17,538.56 338.50,538.22 C341.83,537.88 345.17,537.53 348.50,537.17 C351.83,536.81 355.17,536.44 358.50,536.06 C361.83,535.68 365.17,535.30 368.50,534.90 C371.83,534.51 375.17,534.10 378.50,533.69 C381.83,533.28 385.17,532.86 388.50,532.43 C391.83,532.00 395.17,531.57 398.50,531.12 C401.83,530.68 405.17,530.23 408.50,529.77 C411.83,529.31 415.17,528.84 418.50,528.37 C421.83,527.89 425.17,527.41 428.50,526.92 C431.83,526.43 435.17,525.94 438.50,525.43 C441.83,524.93 445.17,524.42 448.50,523.90 C451.83,523.39 455.17,522.86 458.50,522.33 C461.83,521.80 465.17,521.27 468.50,520.72 C471.83,520.18 475.17,519.63 478.50,519.08 C481.83,518.52 485.17,517.96 488.50,517.40 C491.83,516.83 495.17,516.26 498.50,515.68 C501.83,515.10 505.17,514.52 508.50,513.93 C511.83,513.34 515.17,512.75 518.50,512.15 C521.83,511.55 525.17,510.95 528.50,510.34 C531.83,509.73 535.17,509.12 538.50,508.50 C541.83,507.88 545.17,507.26 548.50,506.64 C551.83,506.01 555.17,505.38 558.50,504.74 C561.83,504.11 565.17,503.47 568.50,502.83 C571.83,502.18 575.17,501.54 578.50,500.89 C581.83,500.24 585.17,499.58 588.50,498.92 C591.83,498.27 595.17,497.61 598.50,496.94 C601.83,496.28 605.17,495.61 608.50,494.94 C611.83,494.27 615.17,493.60 618.50,492.92 C621.83,492.25 625.17,491.57 628.50,490.89 C631.83,490.21 635.17,489.52 638.50,488.84 C641.83,488.15 645.17,487.47 648.50,486.78 C651.83,486.09 655.17,485.40 658.50,484.70 C661.83,484.01 665.17,483.31 668.50,482.62 C671.83,481.92 675.17,481.22 678.50,480.52 C681.83,479.83 685.17,479.13 688.50,478.42 C691.83,477.72 695.17,477.02 698.50,476.32 C701.83,475.61 705.17,474.91 708.50,474.21 C711.83,473.50 715.17,472.80 718.50,472.09 C721.83,471.39 725.17,470.68 728.50,469.97 C731.83,469.27 735.17,468.56 738.50,467.86 C741.83,467.15 745.17,466.45 748.50,465.74 C751.83,465.04 755.17,464.33 758.50,463.63 C761.83,462.92 765.17,462.22 768.50,461.52 C771.83,460.81 775.17,460.11 778.50,459.41 C781.83,458.71 785.17,458.01 788.50,457.31 C791.83,456.61 795.17,455.92 798.50,455.22 C801.83,454.53 805.17,453.83 808.50,453.14 C811.83,452.45 815.17,451.76 818.50,451.07 C821.83,450.38 825.17,449.70 828.50,449.01 C831.83,448.33 835.17,447.65 838.50,446.97 C841.83,446.29 845.17,445.61 848.50,444.94 C851.83,444.27 855.17,443.60 858.50,442.93 C861.83,442.26 865.17,441.59 868.50,440.93 C871.83,440.27 875.17,439.61 878.50,438.96 C881.83,438.30 885.17,437.65 888.50,437.00 C891.83,436.35 895.17,435.71 898.50,435.07 C901.83,434.43 905.17,433.79 908.50,433.16 C911.83,432.53 915.17,431.90 918.50,431.28 C921.83,430.65 925.17,430.03 928.50,429.42 C931.83,428.81 935.17,428.20 938.50,427.59 C941.83,426.99 946.83,426.09 948.50,425.79" fill="none" stroke="#357ea8" stroke-width="4.00"/>
<path d="M148.50,529.95 C150.17,529.78 155.17,529.27 158.50,528.93 C161.83,528.58 165.17,528.24 168.50,527.89 C171.83,527.54 175.17,527.19 178.50,526.84 C181.83,526.49 185.17,526.13 188.50,525.78 C191.83,525.42 195.17,525.06 198.50,524.71 C201.83,524.35 205.17,523.98 208.50,523.62 C211.83,523.26 215.17,522.89 218.50,522.53 C221.83,522.16 225.17,521.79 228.50,521.42 C231.83,521.05 235.17,520.68 238.50,520.30 C241.83,519.93 245.17,519.55 248.50,519.17 C251.83,518.79 255.17,518.41 258.50,518.03 C261.83,517.65 265.17,517.27 268.50,516.88 C271.83,516.50 275.17,516.11 278.50,515.72 C281.83,515.33 285.17,514.94 288.50,514.55 C291.83,514.16 295.17,513.76 298.50,513.36 C301.83,512.97 305.17,512.57 308.50,512.17 C311.83,511.77 315.17,511.37 318.50,510.97 C321.83,510.56 325.17,510.16 328.50,509.75 C331.83,509.35 335.17,508.94 338.50,508.53 C341.83,508.12 345.17,507.71 348.50,507.29 C351.83,506.88 355.17,506.46 358.50,506.05 C361.83,505.63 365.17,505.21 368.50,504.79 C371.83,504.37 375.17,503.95 378.50,503.52 C381.83,503.10 385.17,502.67 388.50,502.25 C391.83,501.82 395.17,501.39 398.50,500.96 C401.83,500.53 405.17,500.10 408.50,499.67 C411.83,499.23 415.17,498.80 418.50,498.36 C421.83,497.92 425.17,497.48 428.50,497.04 C431.83,496.60 435.17,496.16 438.50,495.72 C441.83,495.28 445.17,494.83 448.50,494.38 C451.83,493.94 455.17,493.49 458.50,493.04 C461.83,492.59 465.17,492.14 468.50,491.69 C471.83,491.23 475.17,490.78 478.50,490.32 C481.83,489.87 485.17,489.41 488.50,488.95 C491.83,488.49 495.17,488.03 498.50,487.57 C501.83,487.11 505.17,486.64 508.50,486.18 C511.83,485.71 515.17,485.25 518.50,484.78 C521.83,484.31 525.17,483.84 528.50,483.37 C531.83,482.90 535.17,482.42 538.50,481.95 C541.83,481.48 545.17,481.00 548.50,480.52 C551.83,480.05 555.17,479.57 558.50,479.09 C561.83,478.61 565.17,478.13 568.50,477.64 C571.83,477.16 575.17,476.68 578.50,476.19 C581.83,475.70 585.17,475.22 588.50,474.73 C591.83,474.24 595.17,473.75 598.50,473.26 C601.83,472.77 605.17,472.27 608.50,471.78 C611.83,471.28 615.17,470.79 618.50,470.29 C621.83,469.79 625.17,469.30 628.50,468.80 C631.83,468.30 635.17,467.80 638.50,467.29 C641.83,466.79 645.17,466.29 648.50,465.78 C651.83,465.28 655.17,464.77 658.50,464.26 C661.83,463.75 665.17,463.24 668.50,462.73 C671.83,462.22 675.17,461.71 678.50,461.20 C681.83,460.68 685.17,460.17 688.50,459.65 C691.83,459.14 695.17,458.62 698.50,458.10 C701.83,457.58 705.17,457.06 708.50,456.54 C711.83,456.02 715.17,455.50 718.50,454.98 C721.83,454.45 725.17,453.93 728.50,453.40 C731.83,452.87 735.17,452.35 738.50,451.82 C741.83,451.29 745.17,450.76 748.50,450.23 C751.83,449.70 755.17,449.17 758.50,448.63 C761.83,448.10 765.17,447.56 768.50,447.03 C771.83,446.49 775.17,445.96 778.50,445.42 C781.83,444.88 785.17,444.34 788.50,443.80 C791.83,443.26 795.17,442.72 798.50,442.17 C801.83,441.63 805.17,441.09 808.50,440.54 C811.83,440.00 815.17,439.45 818.50,438.90 C821.83,438.35 825.17,437.80 828.50,437.25 C831.83,436.70 835.17,436.15 838.50,435.60 C841.83,435.05 845.17,434.50 848.50,433.94 C851.83,433.39 855.17,432.83 858.50,432.28 C861.83,431.72 865.17,431.16 868.50,430.60 C871.83,430.04 875.17,429.48 878.50,428.92 C881.83,428.36 885.17,427.80 888.50,427.24 C891.83,426.67 895.17,426.11 898.50,425.54 C901.83,424.98 905.17,424.41 908.50,423.85 C911.83,423.28 915.17,422.71 918.50,422.14 C921.83,421.57 925.17,421.00 928.50,420.43 C931.83,419.86 935.17,419.29 938.50,418.71 C941.83,418.14 946.83,417.28 948.50,416.99" fill="none" stroke="#e2193d" stroke-width="4.00"/>
</g>
<g clip-path="url(#cc)">
<path d="M148.50,850.80 C150.17,850.35 155.17,849.08 158.50,848.08 C161.83,847.09 165.17,845.93 168.50,844.84 C171.83,843.75 175.17,842.58 178.50,841.56 C181.83,840.54 185.17,839.51 188.50,838.72 C191.83,837.92 195.17,837.23 198.50,836.79 C201.83,836.35 205.17,836.18 208.50,836.08 C211.83,835.97 215.17,836.08 218.50,836.14 C221.83,836.21 225.17,836.39 228.50,836.44 C231.83,836.49 235.17,836.50 238.50,836.43 C241.83,836.36 245.17,836.17 248.50,836.03 C251.83,835.89 255.17,835.69 258.50,835.58 C261.83,835.48 265.17,835.41 268.50,835.42 C271.83,835.43 275.17,835.52 278.50,835.64 C281.83,835.76 285.17,835.94 288.50,836.12 C291.83,836.31 295.17,836.54 298.50,836.76 C301.83,836.99 305.17,837.24 308.50,837.49 C311.83,837.73 315.17,837.99 318.50,838.22 C321.83,838.46 325.17,838.70 328.50,838.90 C331.83,839.11 335.17,839.31 338.50,839.46 C341.83,839.61 345.17,839.74 348.50,839.83 C351.83,839.91 355.17,839.94 358.50,839.95 C361.83,839.95 365.17,839.92 368.50,839.85 C371.83,839.79 375.17,839.69 378.50,839.57 C381.83,839.46 385.17,839.31 388.50,839.15 C391.83,838.98 395.17,838.80 398.50,838.61 C401.83,838.42 405.17,838.20 408.50,838.00 C411.83,837.79 415.17,837.57 418.50,837.37 C421.83,837.17 425.17,836.97 428.50,836.79 C431.83,836.61 435.17,836.44 438.50,836.31 C441.83,836.17 445.17,836.06 448.50,835.98 C451.83,835.91 455.17,835.88 458.50,835.84 C461.83,835.81 465.17,835.81 468.50,835.78 C471.83,835.76 475.17,835.74 478.50,835.68 C481.83,835.61 485.17,835.54 488.50,835.40 C491.83,835.26 495.17,835.08 498.50,834.82 C501.83,834.56 505.17,834.24 508.50,833.85 C511.83,833.47 515.17,833.02 518.50,832.53 C521.83,832.04 525.17,831.49 528.50,830.91 C531.83,830.33 535.17,829.71 538.50,829.06 C541.83,828.42 545.17,827.73 548.50,827.04 C551.83,826.35 555.17,825.64 558.50,824.92 C561.83,824.20 565.17,823.47 568.50,822.75 C571.83,822.03 575.17,821.31 578.50,820.60 C581.83,819.89 585.17,819.19 588.50,818.49 C591.83,817.80 595.17,817.12 598.50,816.44 C601.83,815.77 605.17,815.10 608.50,814.44 C611.83,813.79 615.17,813.14 618.50,812.50 C621.83,811.87 625.17,811.24 628.50,810.62 C631.83,810.01 635.17,809.40 638.50,808.82 C641.83,808.23 645.17,807.65 648.50,807.09 C651.83,806.53 655.17,805.99 658.50,805.46 C661.83,804.94 665.17,804.43 668.50,803.95 C671.83,803.46 675.17,803.00 678.50,802.55 C681.83,802.10 685.17,801.68 688.50,801.25 C691.83,800.82 695.17,800.40 698.50,799.97 C701.83,799.54 705.17,799.11 708.50,798.65 C711.83,798.19 715.17,797.73 718.50,797.22 C721.83,796.72 725.17,796.19 728.50,795.63 C731.83,795.07 735.17,794.47 738.50,793.85 C741.83,793.24 745.17,792.60 748.50,791.94 C751.83,791.29 755.17,790.62 758.50,789.94 C761.83,789.26 765.17,788.57 768.50,787.89 C771.83,787.20 775.17,786.51 778.50,785.82 C781.83,785.14 785.17,784.46 788.50,783.80 C791.83,783.14 795.17,782.48 798.50,781.85 C801.83,781.22 805.17,780.61 808.50,780.03 C811.83,779.44 815.17,778.88 818.50,778.36 C821.83,777.85 825.17,777.35 828.50,776.91 C831.83,776.47 835.17,776.06 838.50,775.71 C841.83,775.36 845.17,775.05 848.50,774.80 C851.83,774.55 855.17,774.36 858.50,774.21 C861.83,774.06 865.17,773.97 868.50,773.91 C871.83,773.85 875.17,773.84 878.50,773.86 C881.83,773.88 885.17,773.94 888.50,774.01 C891.83,774.09 895.17,774.20 898.50,774.33 C901.83,774.45 905.17,774.60 908.50,774.76 C911.83,774.91 915.17,775.09 918.50,775.26 C921.83,775.44 925.17,775.62 928.50,775.80 C931.83,775.98 935.17,776.16 938.50,776.33 C941.83,776.50 946.83,776.73 948.50,776.80" fill="none" stroke="#357ea8" stroke-width="4.00"/>
<path d="M148.50,825.99 C150.17,825.80 155.17,825.23 158.50,824.86 C161.83,824.49 165.17,824.11 168.50,823.75 C171.83,823.38 175.17,823.01 178.50,822.65 C181.83,822.29 185.17,821.93 188.50,821.57 C191.83,821.21 195.17,820.86 198.50,820.51 C201.83,820.16 205.17,819.81 208.50,819.47 C211.83,819.13 215.17,818.79 218.50,818.46 C221.83,818.12 225.17,817.79 228.50,817.47 C231.83,817.14 235.17,816.82 238.50,816.51 C241.83,816.19 245.17,815.88 248.50,815.57 C251.83,815.26 255.17,814.96 258.50,814.67 C261.83,814.37 265.17,814.08 268.50,813.79 C271.83,813.51 275.17,813.23 278.50,812.96 C281.83,812.68 285.17,812.42 288.50,812.15 C291.83,811.89 295.17,811.64 298.50,811.39 C301.83,811.14 305.17,810.90 308.50,810.66 C311.83,810.43 315.17,810.20 318.50,809.98 C321.83,809.76 325.17,809.54 328.50,809.33 C331.83,809.13 335.17,808.93 338.50,808.74 C341.83,808.54 345.17,808.36 348.50,808.18 C351.83,808.01 355.17,807.84 358.50,807.68 C361.83,807.52 365.17,807.36 368.50,807.21 C371.83,807.07 375.17,806.92 378.50,806.79 C381.83,806.65 385.17,806.52 388.50,806.39 C391.83,806.26 395.17,806.13 398.50,806.01 C401.83,805.89 405.17,805.77 408.50,805.65 C411.83,805.53 415.17,805.42 418.50,805.30 C421.83,805.19 425.17,805.08 428.50,804.96 C431.83,804.85 435.17,804.73 438.50,804.62 C441.83,804.50 445.17,804.39 448.50,804.27 C451.83,804.15 455.17,804.03 458.50,803.90 C461.83,803.77 465.17,803.63 468.50,803.47 C471.83,803.31 475.17,803.14 478.50,802.93 C481.83,802.73 485.17,802.51 488.50,802.24 C491.83,801.98 495.17,801.69 498.50,801.36 C501.83,801.03 505.17,800.65 508.50,800.25 C511.83,799.86 515.17,799.42 518.50,798.98 C521.83,798.54 525.17,798.07 528.50,797.61 C531.83,797.15 535.17,796.68 538.50,796.23 C541.83,795.77 545.17,795.31 548.50,794.88 C551.83,794.46 555.17,794.04 558.50,793.65 C561.83,793.25 565.17,792.88 568.50,792.51 C571.83,792.15 575.17,791.80 578.50,791.46 C581.83,791.13 585.17,790.80 588.50,790.49 C591.83,790.17 595.17,789.87 598.50,789.57 C601.83,789.27 605.17,788.99 608.50,788.70 C611.83,788.41 615.17,788.14 618.50,787.86 C621.83,787.58 625.17,787.31 628.50,787.03 C631.83,786.75 635.17,786.48 638.50,786.20 C641.83,785.93 645.17,785.65 648.50,785.36 C651.83,785.08 655.17,784.79 658.50,784.50 C661.83,784.21 665.17,783.92 668.50,783.63 C671.83,783.34 675.17,783.05 678.50,782.77 C681.83,782.48 685.17,782.20 688.50,781.92 C691.83,781.65 695.17,781.37 698.50,781.11 C701.83,780.86 705.17,780.60 708.50,780.36 C711.83,780.12 715.17,779.90 718.50,779.69 C721.83,779.48 725.17,779.28 728.50,779.11 C731.83,778.93 735.17,778.77 738.50,778.64 C741.83,778.51 745.17,778.41 748.50,778.32 C751.83,778.24 755.17,778.19 758.50,778.15 C761.83,778.10 765.17,778.09 768.50,778.07 C771.83,778.05 775.17,778.04 778.50,778.03 C781.83,778.01 785.17,778.00 788.50,777.97 C791.83,777.93 795.17,777.89 798.50,777.82 C801.83,777.76 805.17,777.67 808.50,777.56 C811.83,777.46 815.17,777.33 818.50,777.20 C821.83,777.07 825.17,776.93 828.50,776.79 C831.83,776.64 835.17,776.49 838.50,776.35 C841.83,776.21 845.17,776.06 848.50,775.93 C851.83,775.80 855.17,775.68 858.50,775.56 C861.83,775.45 865.17,775.34 868.50,775.24 C871.83,775.14 875.17,775.05 878.50,774.96 C881.83,774.87 885.17,774.79 888.50,774.71 C891.83,774.64 895.17,774.57 898.50,774.50 C901.83,774.43 905.17,774.36 908.50,774.30 C911.83,774.24 915.17,774.18 918.50,774.12 C921.83,774.06 925.17,774.01 928.50,773.95 C931.83,773.89 935.17,773.84 938.50,773.78 C941.83,773.72 946.83,773.64 948.50,773.61" fill="none" stroke="#e2193d" stroke-width="4.00"/>
</g>
<rect x="148.50" y="19.80" width="800.00" height="266.90" fill="none" stroke="#000" stroke-width="2.30"/>
<path d="M140,19.80 H148.50 M140,153.25 H157 M140,286.70 H148.50 M148.50,286.70 V294.90 M308.50,278.40 V294.90 M468.50,278.40 V294.90 M628.50,278.40 V294.90 M788.50,278.40 V294.90 M948.50,286.70 V294.90" stroke="#000" stroke-width="2.4" fill="none"/>
<rect x="148.50" y="335.00" width="800.00" height="266.80" fill="none" stroke="#000" stroke-width="2.30"/>
<path d="M140,335.00 H148.50 M140,468.40 H157 M140,601.80 H148.50 M148.50,601.80 V610.00 M308.50,593.50 V610.00 M468.50,593.50 V610.00 M628.50,593.50 V610.00 M788.50,593.50 V610.00 M948.50,601.80 V610.00" stroke="#000" stroke-width="2.4" fill="none"/>
<rect x="148.50" y="650.00" width="800.00" height="266.90" fill="none" stroke="#000" stroke-width="2.30"/>
<path d="M140,650.00 H148.50 M140,783.45 H157 M140,916.90 H148.50 M148.50,916.90 V925.10 M308.50,908.60 V925.10 M468.50,908.60 V925.10 M628.50,908.60 V925.10 M788.50,908.60 V925.10 M948.50,916.90 V925.10" stroke="#000" stroke-width="2.4" fill="none"/>
<path d="M178.5,256.3 H239.5" stroke="#e2193d" stroke-width="4.2"/>
<path d="M463.4,256.3 H524.7" stroke="#357ea8" stroke-width="4.2"/>
<text transform="translate(11.65,38.00) scale(0.8746,1.0194)" text-anchor="middle" font-size="40" font-weight="bold">a</text>
<text transform="translate(14.30,352.90) scale(1.0789,1.0342)" text-anchor="middle" font-size="40" font-weight="bold">b</text>
<text transform="translate(11.35,668.40) scale(0.9176,1.0000)" text-anchor="middle" font-size="40" font-weight="bold">c</text>
<text transform="translate(109.65,29.70) scale(1.0385,1.0194)" text-anchor="middle" font-size="31.5" font-weight="normal">110</text>
<text transform="translate(116.90,163.50) scale(0.9582,0.9961)" text-anchor="middle" font-size="31.5" font-weight="normal">90</text>
<text transform="translate(117.50,297.30) scale(0.9396,0.9961)" text-anchor="middle" font-size="31.5" font-weight="normal">70</text>
<text transform="translate(118.00,344.80) scale(1.0076,0.9644)" text-anchor="middle" font-size="31.5" font-weight="normal">10</text>
<text transform="translate(114.85,478.70) scale(1.0134,1.0020)" text-anchor="middle" font-size="31.5" font-weight="normal">7.5</text>
<text transform="translate(126.00,612.60) scale(1.1223,1.0194)" text-anchor="middle" font-size="31.5" font-weight="normal">5</text>
<text transform="translate(108.75,660.80) scale(1.0452,1.0470)" text-anchor="middle" font-size="31.5" font-weight="normal">100</text>
<text transform="translate(117.45,793.70) scale(1.0136,1.0099)" text-anchor="middle" font-size="31.5" font-weight="normal">50</text>
<text transform="translate(126.00,927.60) scale(1.1086,0.9644)" text-anchor="middle" font-size="31.5" font-weight="normal">0</text>
<text transform="translate(148.45,957.50) scale(1.1498,1.0285)" text-anchor="middle" font-size="31.5" font-weight="normal">6</text>
<text transform="translate(307.75,957.60) scale(0.9903,1.0285)" text-anchor="middle" font-size="31.5" font-weight="normal">6.5</text>
<text transform="translate(469.05,957.60) scale(1.0490,1.0285)" text-anchor="middle" font-size="31.5" font-weight="normal">7</text>
<text transform="translate(628.25,957.60) scale(0.9912,1.0285)" text-anchor="middle" font-size="31.5" font-weight="normal">7.5</text>
<text transform="translate(788.55,957.60) scale(1.0833,1.0285)" text-anchor="middle" font-size="31.5" font-weight="normal">8</text>
<text transform="translate(948.10,957.60) scale(0.9563,1.0285)" text-anchor="middle" font-size="31.5" font-weight="normal">8.5</text>
<text transform="translate(549.70,999.30) scale(0.9910,1.0008)" text-anchor="middle" font-size="32.5" font-weight="normal">Wavelength (µm)</text>
<text transform="translate(329.30,265.50) scale(0.9809,1.0267)" text-anchor="middle" font-size="32.5" font-weight="normal">a-type lens</text>
<text transform="translate(615.85,265.50) scale(1.0104,1.0267)" text-anchor="middle" font-size="32.5" font-weight="normal">b-type lens</text>
<text transform="translate(30.60,153.35) rotate(-90) scale(0.9654,1.0575)" text-anchor="middle" font-size="32.5" font-weight="normal">Focal</text>
<text transform="translate(70.70,153.18) rotate(-90) scale(1.0206,1.0393)" text-anchor="middle" font-size="32.5" font-weight="normal">length (µm)</text>
<text transform="translate(78.50,467.85) rotate(-90) scale(0.9526,0.9941)" text-anchor="middle" font-size="32.5" font-weight="normal">FWHM (µm)</text>
<text transform="translate(30.50,783.20) rotate(-90) scale(0.9765,0.9746)" text-anchor="middle" font-size="32.5" font-weight="normal">Focusing</text>
<text transform="translate(70.70,784.40) rotate(-90) scale(0.9707,1.0402)" text-anchor="middle" font-size="32.5" font-weight="normal">efficiency (%)</text>
</svg>
</body></html>
